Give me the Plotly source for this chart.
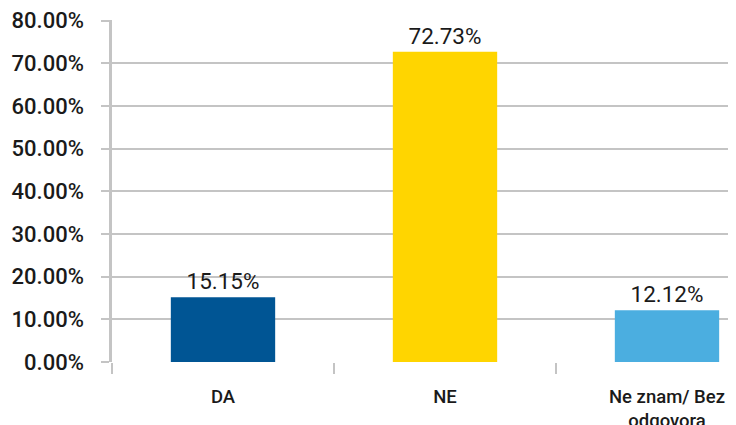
import plotly.graph_objects as go

categories = ["DA", "NE", "Ne znam/ Bez<br>odgovora"]
values = [15.15, 72.73, 12.12]
labels = ["15.15%", "72.73%", "12.12%"]
colors = ["#005594", "#FFD500", "#4BAEE0"]
y_ticks = [0, 10, 20, 30, 40, 50, 60, 70, 80]
y_tick_text = ["0.00%", "10.00%", "20.00%", "30.00%", "40.00%", "50.00%", "60.00%", "70.00%", "80.00%"]

grid = "#c4c4c4"

fig = go.Figure(go.Bar(
    x=categories, y=values, text=labels, textposition="outside",
    marker=dict(color=colors, line=dict(width=0)),
    width=0.47, cliponaxis=False,
    textfont=dict(family="Roboto", size=22.5, color="#1a1a1a"),
))

fig.update_layout(
    width=728, height=417,
    margin=dict(l=104, r=0, t=12, b=63, autoexpand=False),
    paper_bgcolor="white", plot_bgcolor="white",
    showlegend=False,
    font=dict(family="Roboto"),
    xaxis=dict(
        type="category",
        automargin=False,
        range=[-0.5, -0.5 + 624 / 222],
        showgrid=False,
        showline=False,
        ticks="outside", tickson="boundaries", ticklen=11, tickwidth=2, tickcolor=grid,
        ticklabelstandoff=21,
        tickfont=dict(family="Roboto", size=18.5, color="#1a1a1a", weight=500),
        zeroline=False,
    ),
    yaxis=dict(
        automargin=False,
        range=[0, 80.17],
        tickvals=y_ticks, ticktext=y_tick_text,
        showgrid=True, gridcolor=grid, gridwidth=2,
        showline=True, linecolor=grid, linewidth=2.5,
        ticks="outside", ticklen=8, tickwidth=2, tickcolor=grid,
        ticklabelstandoff=13,
        tickfont=dict(family="Roboto", size=22, color="#1a1a1a", weight=500),
        zeroline=False,
    ),
    bargap=0.53,
)

fig.write_html("out.html")
